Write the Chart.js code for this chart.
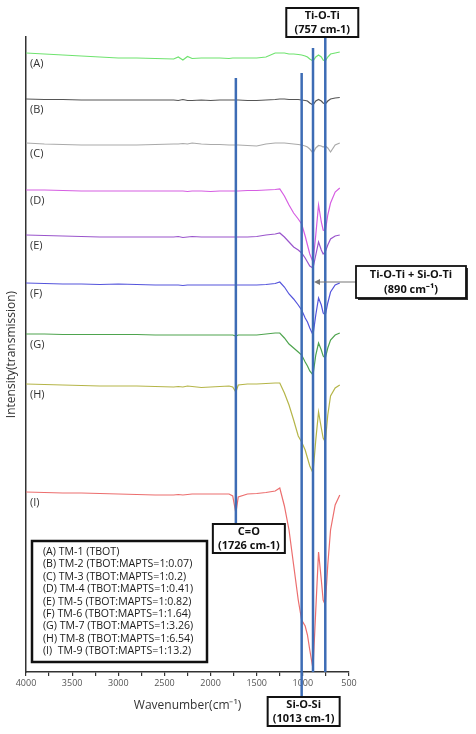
<!DOCTYPE html>
<html>
<head>
<meta charset="utf-8">
<script src="https://cdn.jsdelivr.net/npm/chart.js@4.4.1/dist/chart.umd.min.js"></script>
<style>
  html, body { margin: 0; padding: 0; background: #fff; }
  #ftirChart { display: block; }
</style>
</head>
<body>
<canvas id="ftirChart" width="476" height="734"></canvas>
<script>
// wavenumber grid (cm-1) shared by all spectra
var wavenumbers = [4000, 3800, 3600, 3400, 3200, 3000, 2800, 2600, 2400, 2350,
  2300, 2250, 2200, 2100, 2000, 1900, 1800, 1760, 1726, 1700,
  1600, 1500, 1400, 1300, 1250, 1200, 1150, 1100, 1050, 1013,
  975, 950, 925, 890, 860, 830, 800, 780, 757, 730,
  700, 650, 600];

// stacked transmission intensity (a.u.)
var specA = [619, 618, 617, 616, 615, 614, 614, 613.5, 613, 615,
  612, 615.5, 613.5, 614, 614, 614, 613.5, 614, 614, 614,
  614, 614, 615, 619, 619, 619, 618, 618, 617.5, 617,
  616, 615, 613, 611, 615, 617, 615, 612, 611, 615,
  618, 619, 620];
var specB = [573, 572.5, 572.5, 572, 572, 572, 572, 572, 572, 571.5,
  572.5, 571.5, 571.5, 572, 571.5, 572, 572, 572, 572, 572,
  571.5, 571.5, 572, 572.5, 573, 573, 572.5, 572.5, 572.5, 572,
  571.5, 571, 569, 567, 571, 572.5, 571, 569, 568, 571,
  573, 574, 574.5];
var specC = [529, 528, 527.5, 527, 527, 527, 527, 527.5, 528, 528,
  528.5, 528, 529, 528, 527.5, 527.5, 527, 527, 527, 527,
  526.5, 526, 528, 529, 529, 529, 528.5, 528, 527.5, 527,
  526, 525, 523, 519, 524, 526.5, 526, 525, 526, 524,
  520, 527, 529];
var specD = [482, 482, 481.5, 481, 481, 481, 481, 481, 481, 481,
  481, 480.5, 481, 481, 480.5, 481, 481, 481, 481, 481,
  481.5, 481.5, 482, 482.5, 483, 476, 467, 459, 453, 448,
  436, 427, 418, 410, 437, 467, 450, 442, 441, 457,
  469, 480, 484];
var specE = [437, 436.5, 436, 435.5, 435, 435, 435, 435, 435, 435.5,
  434.5, 435, 435.5, 435, 435, 435, 435, 435, 435, 435,
  435, 435.5, 437, 438, 439, 435, 430, 425, 422, 419,
  414, 410, 406, 404, 417, 430, 422, 418, 420, 427,
  433, 436, 437];
var specF = [389, 388.5, 388, 388, 387.5, 388, 387.5, 387, 387, 387,
  386.5, 387, 387, 387, 387, 387, 387, 387, 387, 387,
  387, 387, 387.5, 388.5, 390, 385, 378, 373, 367, 362,
  354, 350, 344, 337, 357, 374, 367, 359, 357, 369,
  380, 387, 389];
var specG = [338, 338, 337.5, 337.5, 337.5, 337.5, 337.5, 337, 337, 337,
  337, 337, 337, 337, 337, 337, 337, 337, 336, 337,
  337, 337, 338, 339, 339, 334, 328, 324, 320, 317,
  310, 306, 301, 297, 317, 329, 322, 316, 314, 324,
  332, 337, 339];
var specH = [288, 287.5, 287, 286.5, 286, 286, 286, 285.5, 285, 285.5,
  285, 286, 285.5, 284.5, 285, 285.5, 286, 285, 280, 287,
  288, 288, 288.5, 289, 289, 279, 267, 252, 236, 230,
  222, 214, 206, 199, 232, 260, 244, 234, 230, 257,
  276, 284, 287];
var specI = [180, 179.5, 179, 179, 178.5, 178, 177.5, 177, 177, 177.5,
  177, 177.5, 178, 178, 178, 178, 178, 176, 159, 175,
  178, 178.5, 179.5, 181, 184, 166, 142, 107, 72, 52,
  46, 37, 22, 3, 62, 120, 92, 72, 67, 107,
  142, 167, 177];

var seriesTags = ["(A)", "(B)", "(C)", "(D)", "(E)", "(F)", "(G)", "(H)", "(I)"];
var seriesValues = [specA, specB, specC, specD, specE, specF, specG, specH, specI];
var seriesColors = ["#6fe36f", "#555555", "#aaaaaa", "#d65ee2", "#9a55cc",
  "#5454dc", "#4ea44e", "#b5b548", "#ec6e6e"];

var legendLines = [
  "(A) TM-1 (TBOT)",
  "(B) TM-2 (TBOT:MAPTS=1:0.07)",
  "(C) TM-3 (TBOT:MAPTS=1:0.2)",
  "(D) TM-4 (TBOT:MAPTS=1:0.41)",
  "(E) TM-5 (TBOT:MAPTS=1:0.82)",
  "(F) TM-6 (TBOT:MAPTS=1:1.64)",
  "(G) TM-7 (TBOT:MAPTS=1:3.26)",
  "(H) TM-8 (TBOT:MAPTS=1:6.54)",
  "(I)  TM-9 (TBOT:MAPTS=1:13.2)"
];

// assignment lines: wavenumber, top and bottom intensity
var markerWavenumbers = [1726, 1013, 890, 757];
var markerTop = [594, 599, 624, 635];
var markerBottom = [149, -25, 0, 0];

var xTicks = [4000, 3500, 3000, 2500, 2000, 1500, 1000, 500];

var datasets = [];
markerWavenumbers.forEach(function (wn, i) {
  datasets.push({
    data: [{ x: wn, y: markerTop[i] }, { x: wn, y: markerBottom[i] }],
    borderColor: "#3d6cb5",
    borderWidth: 2.5,
    pointRadius: 0,
    clip: false,
    order: 0
  });
});
seriesValues.forEach(function (vals, i) {
  datasets.push({
    label: seriesTags[i],
    data: wavenumbers.map(function (wn, j) { return { x: wn, y: vals[j] }; }),
    borderColor: seriesColors[i],
    borderWidth: 1.2,
    pointRadius: 0,
    tension: 0,
    order: 1
  });
});

function drawBox(ctx, left, top, w, h, lines, font, lw) {
  ctx.save();
  ctx.fillStyle = "#fff";
  ctx.fillRect(left, top, w, h);
  ctx.lineWidth = lw;
  ctx.strokeStyle = "#111";
  ctx.strokeRect(left, top, w, h);
  ctx.fillStyle = "#111";
  ctx.font = font;
  ctx.textAlign = "center";
  ctx.textBaseline = "middle";
  var step = h / (lines.length + 0.1);
  lines.forEach(function (t, i) {
    ctx.fillText(t, left + w / 2, top + step * (i + 0.55));
  });
  ctx.restore();
}

const annotationPlugin = {
  id: "annotations",
  afterDatasetsDraw: function (chart) {
    const ctx = chart.ctx;
    const a = chart.chartArea;
    const x = chart.scales.x;
    const y = chart.scales.y;
    var boxFont = "bold 11px 'Open Sans'";

    // series tags at the left end of each trace
    ctx.save();
    ctx.font = "11px 'Open Sans'";
    ctx.fillStyle = "#333";
    ctx.textBaseline = "middle";
    seriesValues.forEach(function (vals, i) {
      ctx.fillText(seriesTags[i], a.left + 4, y.getPixelForValue(vals[0]) + 11);
    });
    ctx.restore();

    // Ti-O-Ti box on top of the 757 line
    drawBox(ctx, x.getPixelForValue(757) - 39, a.top - 29, 72, 29,
      ["Ti-O-Ti", "(757 cm-1)"], boxFont, 2);

    // C=O box under the 1726 line
    drawBox(ctx, x.getPixelForValue(1726) - 23, y.getPixelForValue(148), 72, 29,
      ["C=O", "(1726 cm-1)"], boxFont, 2);

    // Si-O-Si box under the axis
    drawBox(ctx, x.getPixelForValue(1013) - 34, a.bottom + 25, 72, 29,
      ["Si-O-Si", "(1013 cm-1)"], boxFont, 2);

    // 890 box with arrow
    var ay = y.getPixelForValue(390);
    var bx = a.right + 7;
    var tip = x.getPixelForValue(890) + 1;
    ctx.save();
    ctx.strokeStyle = "#777";
    ctx.fillStyle = "#777";
    ctx.lineWidth = 1.2;
    ctx.beginPath();
    ctx.moveTo(bx, ay);
    ctx.lineTo(tip + 4, ay);
    ctx.stroke();
    ctx.beginPath();
    ctx.moveTo(tip, ay);
    ctx.lineTo(tip + 6, ay - 3);
    ctx.lineTo(tip + 6, ay + 3);
    ctx.closePath();
    ctx.fill();
    ctx.fillStyle = "#333";
    ctx.fillRect(bx + 2, ay - 14, 110, 32);
    ctx.restore();
    drawBox(ctx, bx, ay - 16, 110, 32, ["Ti-O-Ti + Si-O-Ti", "(890 cm\u207B\u00B9)"], boxFont, 1.8);

    // sample legend box
    var lx = a.left + 6;
    var ly = y.getPixelForValue(131);
    ctx.save();
    ctx.fillStyle = "#fff";
    ctx.fillRect(lx, ly, 175, 121);
    ctx.lineWidth = 2.5;
    ctx.strokeStyle = "#111";
    ctx.strokeRect(lx, ly, 175, 121);
    ctx.font = "10.6px 'Open Sans'";
    ctx.fillStyle = "#1a1a1a";
    ctx.textBaseline = "middle";
    legendLines.forEach(function (t, i) {
      ctx.fillText(t, lx + 11, ly + 11 + i * 12.4);
    });
    ctx.restore();
  }
};

var ctx = document.getElementById("ftirChart").getContext("2d");
var ftirChart = new Chart(ctx, {
  type: "line",
  data: { datasets: datasets },
  options: {
    responsive: false,
    animation: false,
    devicePixelRatio: 1,
    layout: { padding: { top: 37, right: 127, left: 0, bottom: 0 } },
    plugins: {
      legend: { display: false },
      tooltip: { enabled: false }
    },
    scales: {
      x: {
        type: "linear",
        reverse: true,
        min: 500,
        max: 4000,
        afterFit: function (scale) { scale.height = 62; },
        afterBuildTicks: function (scale) {
          var t = [];
          for (var v = 4000; v >= 500; v -= 250) t.push({ value: v });
          scale.ticks = t;
        },
        ticks: {
          autoSkip: false,
          maxRotation: 0,
          padding: 2,
          color: "#555",
          font: { family: "'Open Sans'", size: 9 },
          callback: function (v) { return xTicks.indexOf(v) >= 0 ? String(v) : ""; }
        },
        grid: { drawOnChartArea: false, drawTicks: true, tickLength: 4, color: "#333", lineWidth: 1.2 },
        border: { display: true, color: "#333", width: 1.5 },
        title: {
          display: true,
          text: "Wavenumber(cm\u207B\u00B9)",
          color: "#333",
          font: { family: "'Open Sans'", size: 12 },
          padding: { top: 0, bottom: 21 }
        }
      },
      y: {
        min: 0,
        max: 635,
        afterFit: function (scale) { scale.width = 26; },
        ticks: { display: false },
        grid: { display: false },
        border: { display: true, color: "#333", width: 1.5 },
        title: {
          display: true,
          text: "Intensity(transmission)",
          color: "#333",
          font: { family: "'Open Sans'", size: 12 },
          padding: { top: 4, bottom: 0 }
        }
      }
    }
  },
  plugins: [annotationPlugin]
});
</script>
</body>
</html>
